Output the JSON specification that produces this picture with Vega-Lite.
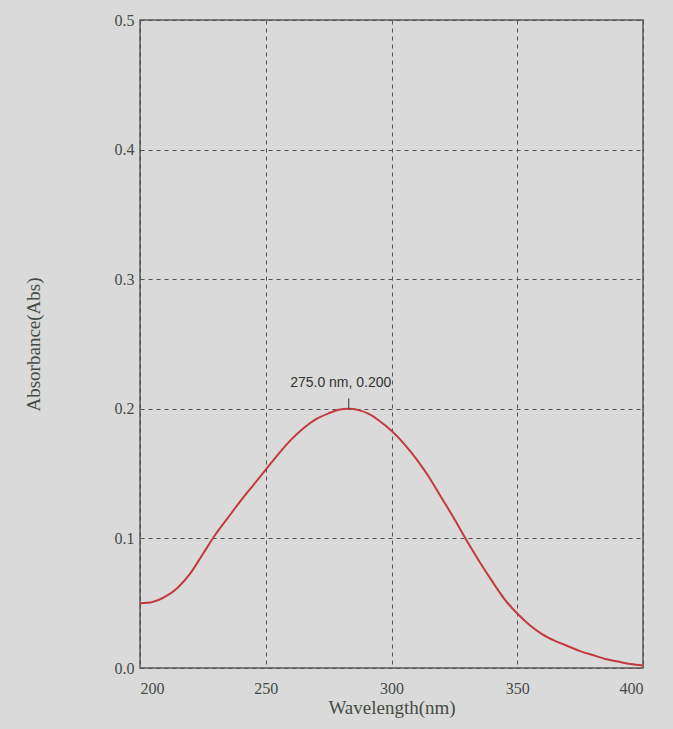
{
  "$schema": "https://vega.github.io/schema/vega-lite/v6.json",
  "width": 503,
  "height": 648,
  "autosize": "none",
  "padding": {"left": 140, "top": 20, "right": 30, "bottom": 61},
  "background": "#dadada",
  "config": {
    "view": {"stroke": "#555a55", "strokeWidth": 1.5},
    "axis": {
      "labelFont": "Liberation Serif",
      "titleFont": "Liberation Serif",
      "labelColor": "#454b45",
      "titleColor": "#454b45",
      "labelFontSize": 16,
      "titleFontSize": 19,
      "titleFontWeight": "normal",
      "gridColor": "#555555",
      "gridDash": [4, 4],
      "gridWidth": 1,
      "ticks": false,
      "domain": false
    }
  },
  "datasets": {
    "spectrum": [
      {"wavelength": 200, "abs": 0.050},
      {"wavelength": 205, "abs": 0.051},
      {"wavelength": 210, "abs": 0.055},
      {"wavelength": 215, "abs": 0.062},
      {"wavelength": 220, "abs": 0.073},
      {"wavelength": 225, "abs": 0.088},
      {"wavelength": 230, "abs": 0.103},
      {"wavelength": 235, "abs": 0.116},
      {"wavelength": 240, "abs": 0.129},
      {"wavelength": 245, "abs": 0.141},
      {"wavelength": 250, "abs": 0.153},
      {"wavelength": 255, "abs": 0.165},
      {"wavelength": 260, "abs": 0.176},
      {"wavelength": 265, "abs": 0.185},
      {"wavelength": 270, "abs": 0.192},
      {"wavelength": 275, "abs": 0.1965},
      {"wavelength": 279, "abs": 0.1992},
      {"wavelength": 283, "abs": 0.200},
      {"wavelength": 287, "abs": 0.1990},
      {"wavelength": 291, "abs": 0.1960},
      {"wavelength": 295, "abs": 0.191},
      {"wavelength": 300, "abs": 0.183},
      {"wavelength": 305, "abs": 0.173},
      {"wavelength": 310, "abs": 0.161},
      {"wavelength": 315, "abs": 0.147},
      {"wavelength": 320, "abs": 0.131},
      {"wavelength": 325, "abs": 0.115},
      {"wavelength": 330, "abs": 0.098},
      {"wavelength": 335, "abs": 0.082},
      {"wavelength": 340, "abs": 0.067},
      {"wavelength": 345, "abs": 0.053},
      {"wavelength": 350, "abs": 0.042},
      {"wavelength": 355, "abs": 0.033},
      {"wavelength": 360, "abs": 0.026},
      {"wavelength": 365, "abs": 0.021},
      {"wavelength": 370, "abs": 0.017},
      {"wavelength": 375, "abs": 0.013},
      {"wavelength": 380, "abs": 0.010},
      {"wavelength": 385, "abs": 0.007},
      {"wavelength": 390, "abs": 0.005},
      {"wavelength": 395, "abs": 0.003},
      {"wavelength": 400, "abs": 0.002}
    ],
    "peak": [
      {"wavelength": 283, "abs": 0.200, "abs2": 0.208, "label": "275.0 nm, 0.200"}
    ]
  },
  "layer": [
    {
      "data": {"name": "spectrum"},
      "mark": {"type": "line", "color": "#c23a40", "strokeWidth": 2, "interpolate": "monotone"},
      "encoding": {
        "x": {
          "field": "wavelength", "type": "quantitative",
          "scale": {"domain": [200, 400], "nice": false},
          "axis": {"values": [200, 250, 300, 350, 400], "title": "Wavelength(nm)", "labelPadding": 12, "titlePadding": 2}
        },
        "y": {
          "field": "abs", "type": "quantitative",
          "scale": {"domain": [0, 0.5], "nice": false},
          "axis": {"values": [0, 0.1, 0.2, 0.3, 0.4, 0.5], "format": ".1f", "title": "Absorbance(Abs)", "labelPadding": 6, "titleX": -97}
        }
      }
    },
    {
      "data": {"name": "peak"},
      "mark": {"type": "rule", "color": "#333333", "strokeWidth": 1},
      "encoding": {
        "x": {"field": "wavelength", "type": "quantitative"},
        "y": {"field": "abs", "type": "quantitative"},
        "y2": {"field": "abs2"}
      }
    },
    {
      "data": {"name": "peak"},
      "mark": {"type": "text", "font": "Liberation Sans", "fontSize": 14, "color": "#333333", "dy": -19, "baseline": "bottom", "dx": -8},
      "encoding": {
        "x": {"field": "wavelength", "type": "quantitative"},
        "y": {"field": "abs", "type": "quantitative"},
        "text": {"field": "label"}
      }
    }
  ]
}
